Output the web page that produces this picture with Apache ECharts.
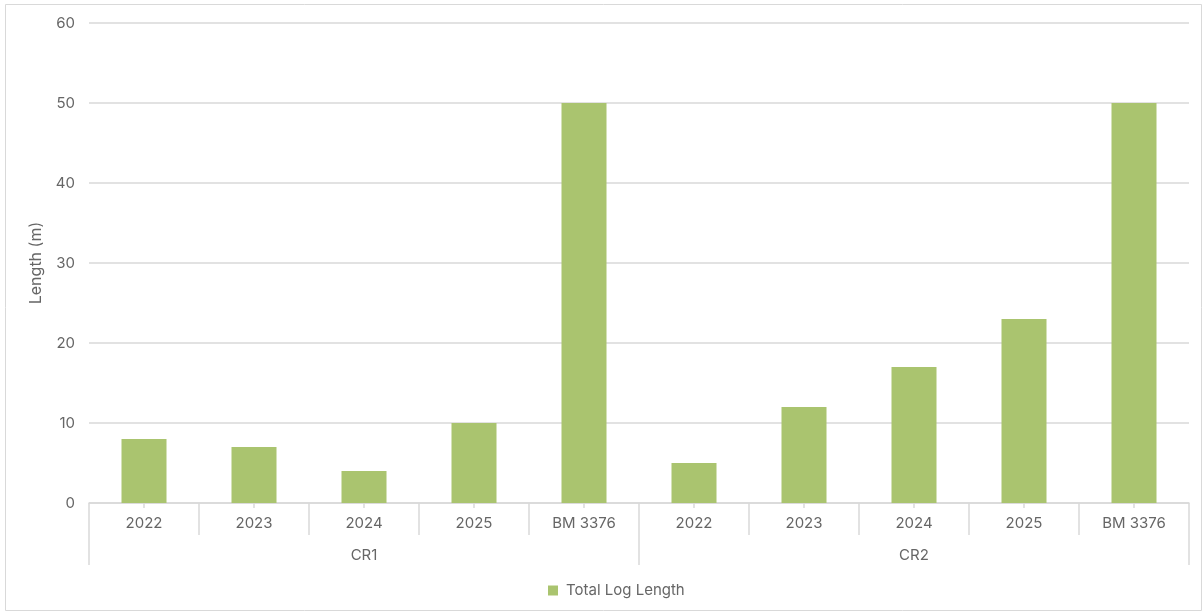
<!DOCTYPE html>
<html>
<head>
<meta charset="utf-8">
<script src="https://cdn.jsdelivr.net/npm/echarts@6/dist/echarts.min.js"></script>
<style>
  html, body { margin: 0; padding: 0; background: #ffffff; }
  #chart { width: 1203px; height: 613px; }
</style>
</head>
<body>
<div id="chart"></div>
<script>
// Categories: sample years within each site, then the site groups
const years = ['2022', '2023', '2024', '2025', 'BM 3376', '2022', '2023', '2024', '2025', 'BM 3376'];
const groups = ['CR1', 'CR2'];
const totalLogLength = [8, 7, 4, 10, 50, 5, 12, 17, 23, 50];
const yTicks = [0, 60, 10]; // min, max, interval

const FONT = 'Inter, "Noto Sans", sans-serif';
const TEXT = '#666666';
const LINE = '#d9d9d9';

const chart = echarts.init(document.getElementById('chart'), null, { renderer: 'canvas' });
chart.setOption({
  animation: false,
  backgroundColor: '#ffffff',
  graphic: [{
    type: 'rect',
    shape: { x: 5.5, y: 4.5, width: 1196, height: 606 },
    style: { fill: 'none', stroke: LINE, lineWidth: 1 },
    silent: true
  }],
  grid: { left: 89, right: 14, top: 23, bottom: 110, containLabel: false },
  legend: {
    bottom: 10,
    left: 543,
    itemWidth: 10,
    itemHeight: 10,
    icon: 'rect',
    itemGap: 6,
    textStyle: { fontFamily: FONT, fontSize: 15, color: TEXT, padding: [0, 0, 0, 3] },
    data: ['Total Log Length']
  },
  xAxis: [
    {
      // year labels with boundary dividers
      type: 'category',
      data: years,
      position: 'bottom',
      axisLine: { show: true, lineStyle: { color: LINE, width: 1.5 } },
      axisTick: { show: true, alignWithLabel: false, length: 32, lineStyle: { color: LINE, width: 1.5 } },
      axisLabel: { margin: 13, fontFamily: FONT, fontSize: 15, color: TEXT },
      splitLine: { show: false }
    },
    {
      // small centre ticks under each bar
      type: 'category',
      data: years,
      position: 'bottom',
      axisLine: { show: false },
      axisTick: { show: true, alignWithLabel: true, length: 5, lineStyle: { color: LINE, width: 1.5 } },
      axisLabel: { show: false },
      splitLine: { show: false }
    },
    {
      // site group labels with longer dividers
      type: 'category',
      data: groups,
      position: 'bottom',
      axisLine: { show: false },
      axisTick: { show: true, alignWithLabel: false, length: 62, lineStyle: { color: LINE, width: 1.5 } },
      axisLabel: { margin: 45, fontFamily: FONT, fontSize: 15, color: TEXT },
      splitLine: { show: false }
    }
  ],
  yAxis: {
    type: 'value',
    min: yTicks[0],
    max: yTicks[1],
    interval: yTicks[2],
    name: 'Length (m)',
    nameLocation: 'middle',
    nameGap: 45,
    nameRotate: 90,
    nameTextStyle: { fontFamily: FONT, fontSize: 16, color: TEXT },
    axisLine: { show: false },
    axisTick: { show: false },
    axisLabel: { margin: 14, fontFamily: FONT, fontSize: 15, color: TEXT },
    splitLine: { lineStyle: { color: LINE, width: 1.5 } }
  },
  series: [{
    name: 'Total Log Length',
    type: 'bar',
    xAxisIndex: 0,
    data: totalLogLength,
    barWidth: 45,
    itemStyle: { color: '#aac46f' }
  }]
});
</script>
</body>
</html>
